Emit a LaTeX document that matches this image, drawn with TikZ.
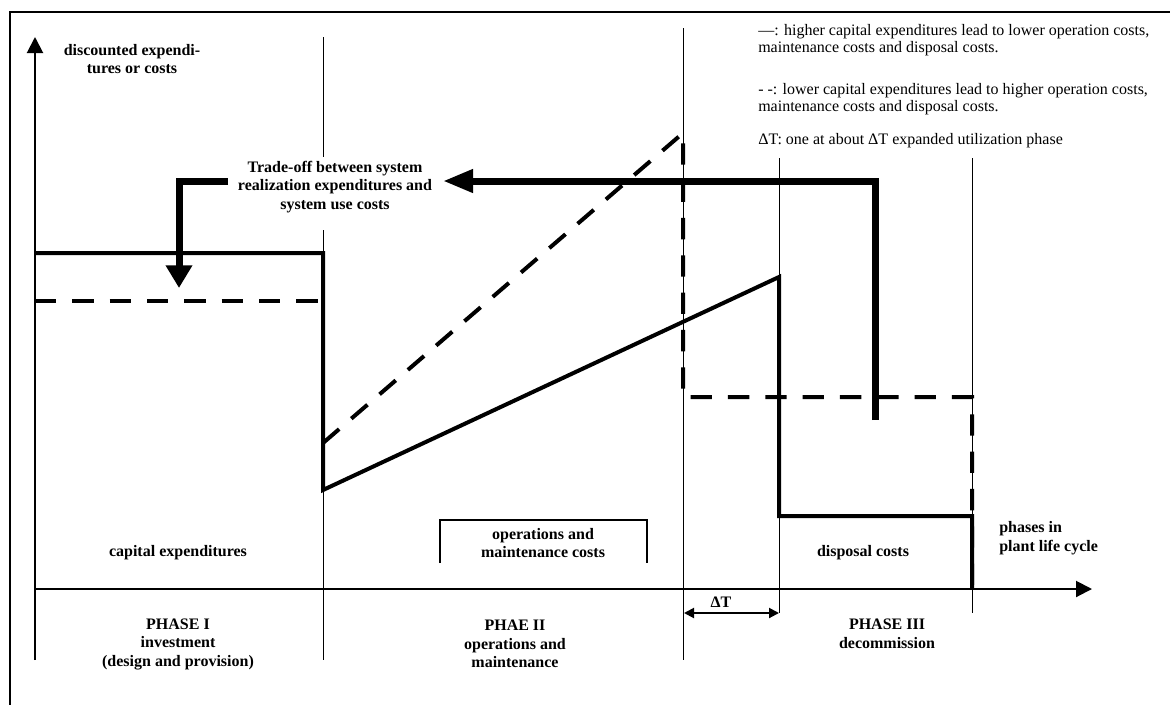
\documentclass[tikz,border=0pt]{standalone}
\usepackage{fontspec}
\setmainfont{Liberation Serif}
\usetikzlibrary{arrows.meta}

\begin{document}
\begin{tikzpicture}[x=0.75pt,y=-0.75pt,
  divider/.style={line width=0.75pt},
  axis/.style={line width=1.5pt,-{Triangle[length=12pt,width=12pt]}},
  costhigh/.style={line width=3pt},
  costlow/.style={line width=3pt,dash pattern=on 16pt off 12pt},
  tradeoff/.style={line width=5.25pt},
  lab/.style={font=\bfseries\fontsize{12}{13.9}\selectfont,align=center,inner sep=0pt},
  legendtext/.style={font=\fontsize{12}{12.5}\selectfont,align=left,anchor=west,inner sep=0pt},
]
\useasboundingbox (0,0) rectangle (1170,704);

% outer frame, running off the page on the right and at the bottom
\begin{scope}
  \clip (0,0) rectangle (1170,704);
  \draw[line width=1.8pt] (10,12) rectangle (1220,760);
\end{scope}

% phase dividers
\draw[divider] (323,37) -- (323,157);
\draw[divider] (323,230) -- (323,660);
\draw[divider] (683,28) -- (683,660);
\draw[divider] (779,158) -- (779,613);
\draw[divider] (972,158) -- (972,613);

% axes
\coordinate (ybot) at (35,660);
\coordinate (ytop) at (35,37);
\coordinate (xleft) at (35,589);
\coordinate (xright) at (1092,589);
\draw[axis] (ybot) -- (ytop);
\draw[axis] (xleft) -- (xright);

% higher capital expenditures
\draw[costhigh] (35,253) -- (323,253) -- (323,490) -- (779,277)
  -- (779,516) -- (972,516) -- (972,589);

% lower capital expenditures
\draw[costlow] (35,301) -- (323,301);
\draw[costlow] (323,443) -- (683,133) -- (683,397) -- (972,397) -- (972,589);

% trade-off arrows
\coordinate (tstart) at (875,420);
\coordinate (tcorner) at (875,181);
\coordinate (ttip) at (443,181);
\draw[tradeoff,-{Triangle[length=22.5pt,width=16.5pt]}] (tstart) -- (tcorner) -- (ttip);
\coordinate (lstart) at (228,181);
\coordinate (lcorner) at (179,181);
\coordinate (ltip) at (179,288);
\draw[tradeoff,-{Triangle[length=17pt,width=19pt]}] (lstart) -- (lcorner) -- (ltip);

% Delta T span
\coordinate (dtl) at (684,613);
\coordinate (dtr) at (779,613);
\draw[line width=1.5pt,{Triangle[length=7.5pt,width=7.5pt]}-{Triangle[length=7.5pt,width=7.5pt]}] (dtl) -- (dtr);
\node[lab] (dt) at (721,602) {ΔT};

% bracket over operations and maintenance costs
\draw[line width=1.5pt] (440,563) -- (440,520) -- (647,520) -- (647,563);

% labels
\node[lab] (ylabel) at (132,59) {discounted expendi-\\tures or costs};
\node[lab] (tradeofftext) at (335,187) {Trade-off between system\\realization expenditures and\\system use costs};
\node[lab] (capex) at (178,553) {capital expenditures};
\node[lab] (opex) at (543,543) {operations and\\maintenance costs};
\node[lab] (disposal) at (863,553) {disposal costs};
\node[lab,align=left,anchor=west] (xlabel) at (999,538) {phases in\\plant life cycle};
\node[lab] (phase1) at (178,644) {PHASE I\\investment\\(design and provision)};
\node[lab] (phase2) at (515,644) {PHAE II\\operations and\\maintenance};
\node[lab] (phase3) at (887,634) {PHASE III\\decommission};

% legend
\node[legendtext] (leg1) at (758,40) {\textemdash: higher capital expenditures lead to lower operation costs,\\maintenance costs and disposal costs.};
\node[legendtext] (leg2) at (758,99) {- -: lower capital expenditures lead to higher operation costs,\\maintenance costs and disposal costs.};
\node[legendtext] (leg3) at (758,141) {ΔT: one at about ΔT expanded utilization phase};
\end{tikzpicture}
\end{document}
